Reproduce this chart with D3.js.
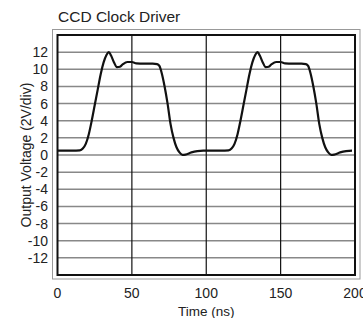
<!DOCTYPE html>
<html>
<head>
<meta charset="utf-8">
<script src="https://cdn.jsdelivr.net/npm/d3@7"></script>
<style>
  body { margin: 0; background: #fff; }
  text { font-family: "Liberation Sans", Arial, sans-serif; fill: #222; }
</style>
</head>
<body>
<div id="chart"></div>
<script>
// waveform (ns, V)
var time_ns = [0, 10, 15, 17, 19, 21, 23, 25, 27, 29, 31, 33, 34.5, 36, 38, 40, 42, 44, 47, 50, 53, 58, 64, 67, 68.5, 70, 72, 74, 76, 78, 80, 82, 84, 86, 90, 94, 98,
               100, 110, 115, 117, 119, 121, 123, 125, 127, 129, 131, 133, 134.5, 136, 138, 140, 142, 144, 147, 150, 153, 158, 164, 167, 168.5, 170, 172, 174, 176, 178, 180, 182, 184, 186, 190, 194, 198, 200];
var volts = [0.5, 0.5, 0.55, 0.75, 1.3, 2.4, 4.0, 5.8, 7.6, 9.4, 10.8, 11.7, 12.0, 11.6, 10.8, 10.25, 10.3, 10.6, 10.85, 10.85, 10.7, 10.65, 10.65, 10.6, 10.4, 9.6, 8.0, 6.0, 3.6, 2.0, 0.9, 0.3, 0.02, 0.05, 0.3, 0.45, 0.5,
             0.5, 0.5, 0.55, 0.75, 1.3, 2.4, 4.0, 5.8, 7.6, 9.4, 10.8, 11.7, 12.0, 11.6, 10.8, 10.25, 10.3, 10.6, 10.85, 10.85, 10.7, 10.65, 10.65, 10.6, 10.4, 9.6, 8.0, 6.0, 3.6, 2.0, 0.9, 0.3, 0.02, 0.05, 0.3, 0.45, 0.5];
var x_ticks = [0, 50, 100, 150, 200];
var y_ticks = [-12, -10, -8, -6, -4, -2, 0, 2, 4, 6, 8, 10, 12];
var title = "CCD Clock Driver";

var width = 363, height = 318;
var plot_left = 57.5, plot_right = 355, plot_top = 35, plot_bottom = 275;

var svg = d3.select("#chart").append("svg")
    .attr("width", width)
    .attr("height", height);

var x = d3.scaleLinear().domain([0, 200]).range([plot_left, plot_right]);
var y = d3.scaleLinear().domain([-14, 14]).range([plot_bottom, plot_top]);

// outer grey frame
svg.append("rect")
    .attr("x", 52.5).attr("y", 29.5)
    .attr("width", 307.5).attr("height", 249.5)
    .attr("fill", "none")
    .attr("stroke", "#999")
    .attr("stroke-width", 1);

// horizontal grid (grey)
svg.append("g").selectAll("line")
    .data(y_ticks)
    .enter().append("line")
    .attr("x1", plot_left).attr("x2", plot_right)
    .attr("y1", function(d) { return y(d); })
    .attr("y2", function(d) { return y(d); })
    .attr("stroke", "#888")
    .attr("stroke-width", 1.5);

// vertical grid (black)
svg.append("g").selectAll("line")
    .data([50, 100, 150])
    .enter().append("line")
    .attr("x1", function(d) { return x(d); })
    .attr("x2", function(d) { return x(d); })
    .attr("y1", plot_top).attr("y2", plot_bottom)
    .attr("stroke", "#111")
    .attr("stroke-width", 1.2);

// inner frame
svg.append("rect")
    .attr("x", plot_left).attr("y", plot_top)
    .attr("width", plot_right - plot_left).attr("height", plot_bottom - plot_top)
    .attr("fill", "none")
    .attr("stroke", "#111")
    .attr("stroke-width", 2);

// y tick labels
svg.append("g").selectAll("text")
    .data(y_ticks)
    .enter().append("text")
    .attr("x", 48)
    .attr("y", function(d) { return y(d); })
    .attr("dy", "0.36em")
    .attr("text-anchor", "end")
    .attr("font-size", 14)
    .text(function(d) { return d; });

// x tick labels
svg.append("g").selectAll("text")
    .data(x_ticks)
    .enter().append("text")
    .attr("x", function(d) { return x(d); })
    .attr("y", 298)
    .attr("text-anchor", "middle")
    .attr("font-size", 14)
    .text(function(d) { return d; });

// titles
svg.append("text")
    .attr("x", 58).attr("y", 22)
    .attr("font-size", 15.5)
    .text(title);

svg.append("text")
    .attr("x", x(100)).attr("y", 316)
    .attr("text-anchor", "middle")
    .attr("font-size", 13.5)
    .text("Time (ns)");

svg.append("text")
    .attr("transform", "translate(31," + y(0) + ") rotate(-90)")
    .attr("text-anchor", "middle")
    .attr("font-size", 14)
    .text("Output Voltage (2V/div)");

// the trace
var pts = time_ns.map(function(t, i) { return [t, volts[i]]; });
var line = d3.line()
    .x(function(d) { return x(d[0]); })
    .y(function(d) { return y(d[1]); })
    .curve(d3.curveMonotoneX);

svg.append("path")
    .datum(pts)
    .attr("d", line)
    .attr("fill", "none")
    .attr("stroke", "#111")
    .attr("stroke-width", 2.2);
</script>
</body>
</html>
